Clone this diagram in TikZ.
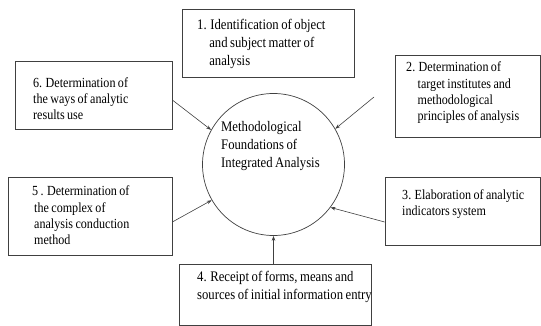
\documentclass[tikz,border=0pt]{standalone}
\usepackage{fontspec}
\setmainfont[FakeStretch=0.87,WordSpace=0.8]{Liberation Serif}
\usetikzlibrary{arrows.meta}

\tikzset{
  stagebox/.style={draw=black!75, line width=0.7pt, rectangle, inner sep=0pt},
  bigtext/.style={anchor=base west, align=left, inner sep=0pt, font=\fontsize{14.6}{18}\selectfont},
  smalltext/.style={anchor=base west, align=left, inner sep=0pt, font=\fontsize{13.9}{16.2}\selectfont},
  inarrow/.style={-{Stealth[length=5pt,width=3.5pt]}, draw=black!75, line width=0.6pt}
}

\begin{document}
\begin{tikzpicture}[x=1pt,y=-1pt]
\useasboundingbox (0,0) rectangle (541,326);

% central circle
\node[draw=black!75, line width=0.7pt, circle, minimum size=142pt, inner sep=0pt] (core) at (273.5,164.5) {};
\node[bigtext] (coretext) at (221,167.5) {Methodological\\Foundations of\\Integrated Analysis};

% the six boxes
\node[stagebox, minimum width=172pt, minimum height=68pt] (s1) at (268,43) {};
\node[stagebox, minimum width=145pt, minimum height=82pt] (s2) at (467.5,96) {};
\node[stagebox, minimum width=155pt, minimum height=68pt] (s3) at (462.5,211) {};
\node[stagebox, minimum width=192pt, minimum height=61pt] (s4) at (275,294.5) {};
\node[stagebox, minimum width=164pt, minimum height=78pt] (s5) at (90,216) {};
\node[stagebox, minimum width=157pt, minimum height=68pt] (s6) at (93.5,95) {};

% texts of the boxes (placed at the baseline of their last line)
\node[bigtext] (t1) at (197,65.5) {1. Identification of object\\\hphantom{1.\ }and subject matter of\\\hphantom{1.\ }analysis};
\node[smalltext] (t2) at (406,120.5) {2. Determination of\\\hphantom{2.\ }target institutes and\\\hphantom{2.\ }methodological\\\hphantom{2.\ }principles of analysis};
\node[smalltext] (t3) at (402,215.5) {3. Elaboration of analytic\\indicators system};
\node[bigtext] (t4) at (197,299.5) {4. Receipt of forms, means and\\sources of initial information entry};
\node[smalltext] (t5) at (32,244.5) {5 . Determination of\\\hspace*{2pt}the complex of\\\hspace*{2pt}analysis conduction\\\hspace*{2pt}method};
\node[smalltext] (t6) at (33,119.5) {6. Determination of\\the ways of analytic\\results use};

% arrows into the circle
\coordinate (s2tail) at (374,97);
\draw[inarrow] (s2tail) -- (core.30);
\draw[inarrow] ([yshift=-5pt]s6.east) -- (core.151.5);
\draw[inarrow] ([yshift=-6pt]s5.east) -- (core.210.7);
\draw[inarrow] ([yshift=-11pt]s3.west) -- (core.323);
\draw[inarrow] (s4.north -| core.south) -- (core.south);

\end{tikzpicture}
\end{document}
